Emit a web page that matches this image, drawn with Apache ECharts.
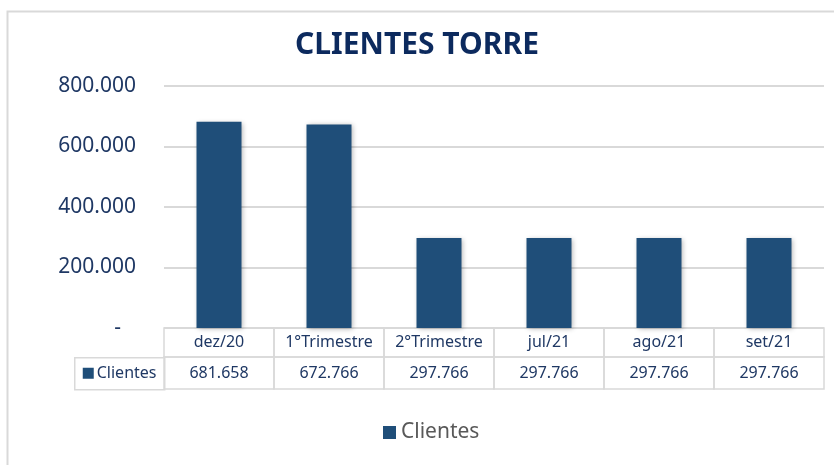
<!DOCTYPE html>
<html>
<head>
<meta charset="utf-8">
<script src="https://cdn.jsdelivr.net/npm/echarts@6/dist/echarts.min.js"></script>
<style>
  html, body { margin: 0; padding: 0; background: #fff; }
  #chart { width: 834px; height: 465px; }
</style>
</head>
<body>
<div id="chart"></div>
<script>
// dados
var categorias = ['dez/20', '1°Trimestre', '2°Trimestre', 'jul/21', 'ago/21', 'set/21'];
var clientes = [681658, 672766, 297766, 297766, 297766, 297766];
var yTicks = [0, 200000, 400000, 600000, 800000];

var azul = '#1f4e79';
var textoAzul = '#1f3864';
var borda = '#d9d9d9';

function fmt(v) {
  return String(v).replace(/\B(?=(\d{3})+(?!\d))/g, '.');
}

var chart = echarts.init(document.getElementById('chart'));

var celula = {
  width: 110,
  height: 29,
  lineHeight: 29,
  padding: 0,
  margin: 0,
  borderColor: borda,
  borderWidth: 1.5,
  color: textoAzul,
  fontFamily: 'Noto Sans',
  fontSize: 16,
  align: 'center',
  interval: 0
};

var option = {
  animation: false,
  backgroundColor: '#fff',
  title: {
    text: 'CLIENTES TORRE',
    left: 'center',
    top: 25,
    textStyle: {
      color: '#0c2a5e',
      fontFamily: 'Noto Sans',
      fontWeight: 'bold',
      fontSize: 30
    }
  },
  legend: {
    data: ['Clientes'],
    left: 378,
    top: 417,
    icon: 'rect',
    itemWidth: 13,
    itemHeight: 13,
    textStyle: { color: '#595959', fontFamily: 'Noto Sans', fontSize: 21 }
  },
  grid: { left: 164, right: 10, top: 86, bottom: 137 },
  xAxis: [{
    type: 'category',
    data: categorias,
    position: 'bottom',
    axisLine: { show: false },
    axisTick: { show: false },
    axisLabel: Object.assign({}, celula)
  }, {
    type: 'category',
    data: categorias,
    position: 'bottom',
    offset: 29,
    axisLine: { show: false },
    axisTick: { show: false },
    axisLabel: Object.assign({}, celula, {
      height: 32,
      lineHeight: 32,
      formatter: function (v, i) { return fmt(clientes[i]); }
    })
  }],
  yAxis: {
    type: 'value',
    min: yTicks[0],
    max: yTicks[yTicks.length - 1],
    interval: 200000,
    axisLine: { show: false },
    axisTick: { show: false },
    splitLine: { lineStyle: { color: borda, width: 2 } },
    axisLabel: {
      margin: 28,
      color: textoAzul,
      fontFamily: 'Noto Sans',
      fontSize: 21,
      formatter: function (v) {
        return v === 0 ? '{d|-}' : fmt(v);
      },
      rich: {
        d: { padding: [0, 15, 0, 0], color: textoAzul, fontFamily: 'Noto Sans', fontSize: 21 }
      }
    }
  },
  series: [{
    name: 'Clientes',
    type: 'bar',
    xAxisIndex: 0,
    data: clientes,
    barWidth: 45,
    itemStyle: {
      color: azul,
      shadowColor: 'rgba(0,0,0,0.3)',
      shadowBlur: 5,
      shadowOffsetX: 1,
      shadowOffsetY: 1
    }
  }],
  graphic: [{
    type: 'rect',
    left: 5,
    top: 9,
    shape: { width: 900, height: 600 },
    style: { fill: 'none', stroke: borda, lineWidth: 2 },
    silent: true
  }, {
    type: 'group',
    left: 74,
    top: 357,
    children: [{
      type: 'rect',
      shape: { x: 0, y: 0, width: 90, height: 32 },
      style: { fill: '#fff', stroke: borda, lineWidth: 1.5 }
    }, {
      type: 'rect',
      shape: { x: 8, y: 10, width: 11, height: 11 },
      style: { fill: azul }
    }, {
      type: 'text',
      x: 22,
      y: 16,
      style: {
        text: 'Clientes',
        fill: textoAzul,
        font: '16px "Noto Sans"',
        verticalAlign: 'middle'
      }
    }]
  }]
};

chart.setOption(option);
</script>
</body>
</html>
